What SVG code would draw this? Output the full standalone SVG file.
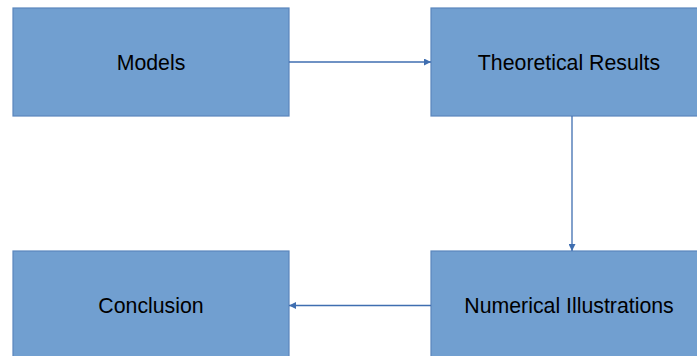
<svg xmlns="http://www.w3.org/2000/svg" width="697" height="356" viewBox="0 0 697 356">
<style>
.box{fill:#719fd0;stroke:#5a86bd;stroke-width:1.2}
.lbl{font-family:"Liberation Sans",Arial,sans-serif;font-size:21.3px;fill:#000;text-anchor:middle;dominant-baseline:central}
.conn{stroke:#3f6eb0;stroke-width:1.3;fill:none;marker-end:url(#ah)}
</style>
<defs>
<marker id="ah" viewBox="0 0 10 10" refX="10" refY="5" markerWidth="7" markerHeight="7" markerUnits="userSpaceOnUse" orient="auto">
<path d="M0,0 L10,5 L0,10 z" fill="#3f6eb0"/>
</marker>
</defs>
<g id="models"><rect class="box" x="13" y="8" width="276" height="108"/><text class="lbl" x="151" y="63">Models</text></g>
<g id="theoretical"><rect class="box" x="431" y="8" width="276" height="108"/><text class="lbl" x="569" y="63">Theoretical Results</text></g>
<g id="conclusion"><rect class="box" x="13" y="251" width="276" height="108"/><text class="lbl" x="151" y="306">Conclusion</text></g>
<g id="numerical"><rect class="box" x="431" y="251" width="276" height="108"/><text class="lbl" x="569" y="306">Numerical Illustrations</text></g>
<g id="connectors">
<path class="conn" d="M289,62 L431,62"/>
<path class="conn" d="M572,116 L572,251"/>
<path class="conn" d="M431,305.5 L289,305.5"/>
</g>
</svg>
